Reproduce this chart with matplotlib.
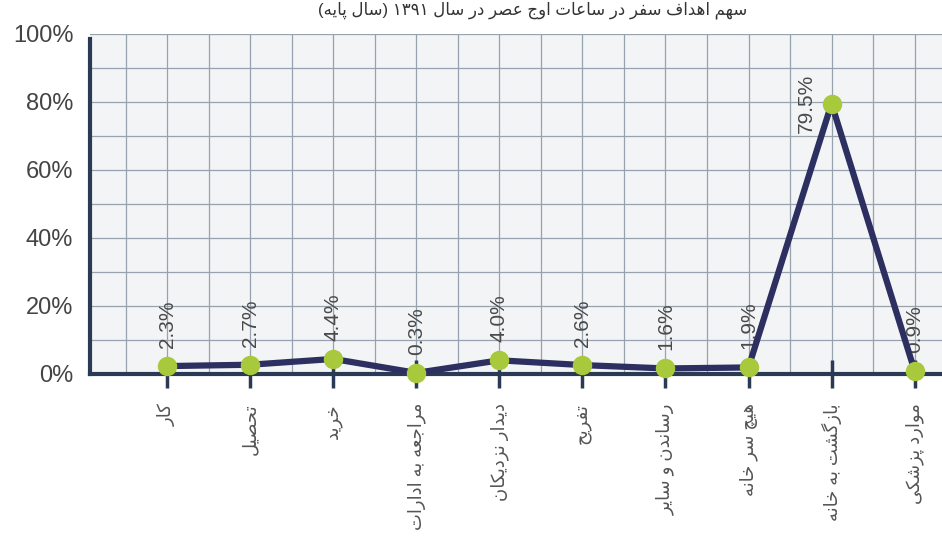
import re
import matplotlib
matplotlib.use("Agg")
from matplotlib import pyplot as plt
import numpy as np

# --- data ---
title = "سهم اهداف سفر در ساعات اوج عصر در سال ۱۳۹۱ (سال پایه)"
categories = ["کار", "تحصیل", "خرید", "مراجعه به ادارات", "دیدار نزدیکان",
              "تفریح", "رساندن و سایر", "هیچ سر خانه", "بازگشت به خانه", "موارد پزشکی"]
shares = [2.3, 2.7, 4.4, 0.3, 4.0, 2.6, 1.6, 1.9, 79.5, 0.9]
yticks = [0, 20, 40, 60, 80, 100]

# matplotlib has no arabic shaping, so pick presentation forms by hand
# (iso, fin, ini, med); None -> letter does not join to the next one
FORMS = {
    "ا": ("\uFE8D", "\uFE8E", None, None), "ب": ("\uFE8F", "\uFE90", "\uFE91", "\uFE92"),
    "پ": ("\uFB56", "\uFB57", "\uFB58", "\uFB59"), "ت": ("\uFE95", "\uFE96", "\uFE97", "\uFE98"),
    "ج": ("\uFE9D", "\uFE9E", "\uFE9F", "\uFEA0"), "چ": ("\uFB7A", "\uFB7B", "\uFB7C", "\uFB7D"),
    "ح": ("\uFEA1", "\uFEA2", "\uFEA3", "\uFEA4"), "خ": ("\uFEA5", "\uFEA6", "\uFEA7", "\uFEA8"),
    "د": ("\uFEA9", "\uFEAA", None, None), "ر": ("\uFEAD", "\uFEAE", None, None),
    "ز": ("\uFEAF", "\uFEB0", None, None), "س": ("\uFEB1", "\uFEB2", "\uFEB3", "\uFEB4"),
    "ش": ("\uFEB5", "\uFEB6", "\uFEB7", "\uFEB8"), "ص": ("\uFEB9", "\uFEBA", "\uFEBB", "\uFEBC"),
    "ع": ("\uFEC9", "\uFECA", "\uFECB", "\uFECC"), "ف": ("\uFED1", "\uFED2", "\uFED3", "\uFED4"),
    "ک": ("\uFB8E", "\uFB8F", "\uFB90", "\uFB91"), "گ": ("\uFB92", "\uFB93", "\uFB94", "\uFB95"),
    "ل": ("\uFEDD", "\uFEDE", "\uFEDF", "\uFEE0"), "م": ("\uFEE1", "\uFEE2", "\uFEE3", "\uFEE4"),
    "ن": ("\uFEE5", "\uFEE6", "\uFEE7", "\uFEE8"), "ه": ("\uFEE9", "\uFEEA", "\uFEEB", "\uFEEC"),
    "و": ("\uFEED", "\uFEEE", None, None), "ی": ("\uFBFC", "\uFBFD", "\uFBFE", "\uFBFF"),
}


def fa(text):
    out = []
    for i, c in enumerate(text):
        if c not in FORMS:
            out.append(c)
            continue
        prev = i > 0 and text[i - 1] in FORMS and FORMS[text[i - 1]][2] is not None
        nxt = (i < len(text) - 1 and text[i + 1] in FORMS
               and FORMS[c][2] is not None)
        iso, fin, ini, med = FORMS[c]
        if prev and nxt:
            out.append(med)
        elif prev:
            out.append(fin)
        elif nxt:
            out.append(ini)
        else:
            out.append(iso)
    parts = re.findall(r"[0-9۰-۹]+|[^0-9۰-۹]", "".join(out))
    parts.reverse()
    mirror = {"(": ")", ")": "("}
    return "".join(mirror.get(p, p) for p in parts)


plt.rcParams["font.family"] = ["Liberation Sans", "DejaVu Sans"]

navy = "#2a3a55"
fig = plt.figure(figsize=(9.42, 5.38), dpi=100)
ax = fig.add_axes([0.0955, 0.305, 0.9045, 0.632])
ax.set_facecolor("#f3f4f6")

x = np.arange(len(categories))
ax.plot(x, shares, color="#2c2f60", lw=4.5, marker="o", markersize=13,
        mfc="#a7c93b", mec="#a7c93b", zorder=5, clip_on=False)

for i, v in enumerate(shares):
    if v > 50:
        ax.annotate(f"{v:.1f}%", (i, v), xytext=(-18, 0), textcoords="offset points",
                    rotation=90, ha="center", va="center", fontsize=15, color="#4a4a4a")
    else:
        ax.annotate(f"{v:.1f}%", (i, v), xytext=(0, 13), textcoords="offset points",
                    rotation=90, ha="center", va="bottom", fontsize=15, color="#4a4a4a")

ax.set_xlim(-0.93, 9.33)
ax.set_ylim(0, 100)
ax.set_yticks(yticks)
ax.set_yticklabels([f"{t}%" for t in yticks], fontsize=17, color="#444444")
ax.set_yticks(np.arange(0, 101, 10), minor=True)
ax.set_xticks(x)
ax.set_xticks(np.arange(-0.5, 9.4, 0.5), minor=True)
ax.set_xticklabels([fa(c) for c in categories], rotation=90, ha="center", va="top",
                   fontsize=13, color="#555555")
ax.tick_params(axis="y", which="both", length=0, pad=12)
ax.tick_params(axis="x", which="major", direction="inout", length=20, width=2.5,
               color=navy, pad=11)
ax.tick_params(axis="x", which="minor", length=0)
ax.grid(True, which="both", color="#97a2ae", lw=0.9)
ax.set_axisbelow(True)

for s in ["top", "right"]:
    ax.spines[s].set_visible(False)
ax.spines["left"].set_color(navy)
ax.spines["left"].set_linewidth(3)
ax.spines["left"].set_bounds(0, 98.5)
ax.spines["bottom"].set_color(navy)
ax.spines["bottom"].set_linewidth(3)

fig.text(0.565, 0.998, fa(title), ha="center", va="top", fontsize=12, color="#333333")

fig.savefig("out.png", dpi=100)
